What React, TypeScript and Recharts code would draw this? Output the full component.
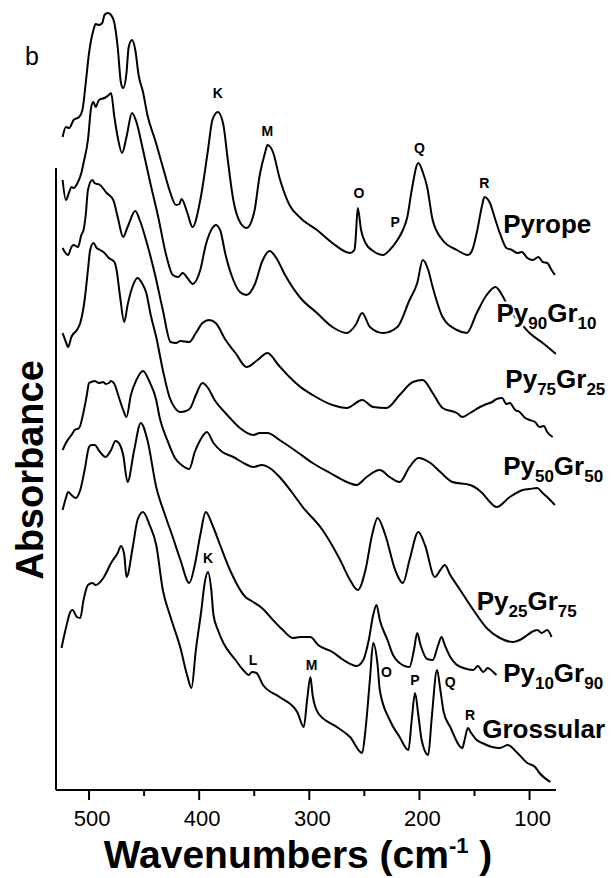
import { LineChart, Line, XAxis, YAxis, ReferenceLine, ReferenceDot } from 'recharts';

// far-IR absorbance spectra, pyrope-grossular series (wavenumber cm-1, absorbance offset)
const pyrope = [
  [524, 6.53], [521, 6.63], [518, 6.62], [514, 6.7], [509, 6.73], [506, 6.8], [503, 7.07], [500, 7.37],
  [496, 7.6], [494, 7.66], [491, 7.65], [488, 7.67], [486, 7.75], [483, 7.77], [480, 7.75], [477, 7.67],
  [474, 7.43], [471, 7.07], [469, 7.02], [466, 7.17], [464, 7.43], [461, 7.5], [458, 7.4], [455, 7.15],
  [451, 6.98], [447, 6.75], [440, 6.5], [433, 6.23], [427, 6.0], [421, 5.85], [418, 5.86], [416, 5.91],
  [411, 5.78], [406, 5.63], [399, 5.9], [392, 6.4], [388, 6.7], [383, 6.78], [378, 6.65], [374, 6.3],
  [369, 5.9], [363, 5.68], [357, 5.62], [350, 5.78], [345, 6.15], [340, 6.38], [338, 6.45], [333, 6.38],
  [327, 6.12], [318, 5.85], [308, 5.72], [293, 5.6], [279, 5.47], [263, 5.37], [259, 5.4], [258, 5.5],
  [256, 5.82], [253, 5.6], [249, 5.47], [242, 5.39], [233, 5.35], [227, 5.4], [220, 5.5], [215, 5.6],
  [211, 5.73], [207, 6.0], [201, 6.27], [197, 6.18], [193, 6.03], [188, 5.7], [179, 5.5], [166, 5.4],
  [156, 5.35], [152, 5.4], [148, 5.57], [143, 5.85], [141, 5.93], [136, 5.87], [131, 5.7], [127, 5.57],
  [121, 5.42], [116, 5.4], [111, 5.37], [107, 5.38], [102, 5.32], [97, 5.3], [92, 5.33], [88, 5.28],
  [84, 5.27], [80, 5.2], [77, 5.15],
];

const py90gr10 = [
  [524, 6.1], [521, 5.9], [518, 5.98], [516, 6.03], [514, 6.02], [510, 6.08], [507, 6.17], [505, 6.27],
  [501, 6.5], [498, 6.83], [496, 6.88], [494, 6.83], [491, 6.9], [486, 6.92], [482, 6.95], [480, 6.97],
  [477, 6.73], [474, 6.53], [470, 6.37], [466, 6.53], [461, 6.77], [457, 6.68], [451, 6.4], [445, 6.1],
  [437, 5.72], [430, 5.35], [424, 5.15], [419, 5.13], [415, 5.17], [410, 5.11], [406, 5.06], [399, 5.2],
  [394, 5.45], [388, 5.62], [385, 5.65], [381, 5.6], [376, 5.35], [369, 5.1], [363, 4.98], [357, 4.95],
  [349, 5.07], [343, 5.28], [336, 5.39], [330, 5.32], [322, 5.15], [308, 4.92], [293, 4.77], [279, 4.63],
  [266, 4.57], [258, 4.65], [252, 4.77], [245, 4.63], [233, 4.57], [220, 4.63], [209, 4.9], [202, 5.07],
  [197, 5.3], [192, 5.2], [188, 5.03], [179, 4.73], [166, 4.6], [157, 4.57], [148, 4.77], [139, 4.95],
  [131, 5.03], [125, 4.95], [118, 4.8], [109, 4.68], [100, 4.57], [88, 4.47], [76, 4.36],
];

const py75gr25 = [
  [524, 5.42], [522, 5.38], [519, 5.35], [516, 5.43], [514, 5.45], [510, 5.43], [507, 5.55], [505, 5.6],
  [503, 5.75], [501, 6.0], [497, 6.1], [495, 6.07], [490, 6.05], [484, 5.97], [478, 5.9], [474, 5.73],
  [469, 5.53], [465, 5.63], [458, 5.79], [454, 5.7], [447, 5.45], [440, 5.15], [433, 4.8], [426, 4.48],
  [421, 4.47], [417, 4.49], [409, 4.48], [403, 4.57], [397, 4.67], [391, 4.7], [385, 4.67], [376, 4.5],
  [367, 4.37], [357, 4.23], [347, 4.3], [338, 4.37], [328, 4.25], [318, 4.13], [308, 4.03], [297, 3.95],
  [279, 3.85], [266, 3.82], [252, 3.9], [242, 3.83], [230, 3.82], [218, 3.95], [206, 4.08], [197, 4.1],
  [188, 3.97], [179, 3.82], [166, 3.77], [161, 3.73], [154, 3.77], [145, 3.83], [139, 3.86], [134, 3.88],
  [130, 3.91], [125, 3.92], [121, 3.86], [118, 3.87], [113, 3.8], [109, 3.78], [104, 3.72], [100, 3.7],
  [95, 3.68], [91, 3.63], [87, 3.64], [84, 3.58], [79, 3.53],
];

const py50gr50 = [
  [524, 4.57], [521, 4.48], [519, 4.43], [516, 4.53], [515, 4.55], [511, 4.6], [508, 4.67], [504, 4.9],
  [501, 5.2], [499, 5.4], [496, 5.47], [493, 5.42], [490, 5.4], [487, 5.38], [482, 5.32], [477, 5.28],
  [475, 5.2], [472, 4.95], [468, 4.68], [465, 4.85], [460, 5.05], [456, 5.12], [452, 5.07], [448, 4.97],
  [444, 4.75], [439, 4.53], [433, 4.2], [427, 3.93], [422, 3.82], [417, 3.78], [412, 3.79], [408, 3.82],
  [403, 3.95], [397, 4.07], [392, 4.02], [386, 3.9], [377, 3.78], [372, 3.72], [363, 3.62], [351, 3.55],
  [345, 3.57], [338, 3.57], [327, 3.5], [311, 3.38], [297, 3.27], [281, 3.17], [266, 3.08], [257, 3.05],
  [248, 3.13], [236, 3.2], [227, 3.13], [218, 3.08], [209, 3.23], [201, 3.32], [190, 3.27], [181, 3.18],
  [170, 3.08], [154, 3.05], [143, 2.97], [136, 2.88], [130, 2.83], [118, 2.93], [106, 3.0], [100, 3.01],
  [93, 3.02], [89, 2.98], [84, 2.93], [77, 2.85],
];

const py25gr75 = [
  [524, 3.4], [521, 3.47], [516, 3.55], [513, 3.6], [509, 3.62], [505, 3.78], [502, 3.95], [500, 4.07],
  [498, 4.08], [495, 4.09], [491, 4.07], [487, 4.08], [485, 4.06], [482, 4.07], [480, 4.09], [477, 4.06],
  [473, 3.93], [469, 3.8], [466, 3.73], [462, 3.95], [457, 4.1], [451, 4.19], [445, 4.08], [439, 3.9],
  [436, 3.73], [429, 3.5], [422, 3.32], [416, 3.25], [409, 3.21], [404, 3.38], [399, 3.5], [393, 3.58],
  [387, 3.47], [379, 3.38], [369, 3.33], [358, 3.26], [351, 3.23], [343, 3.25], [336, 3.22], [327, 3.13],
  [316, 2.98], [306, 2.83], [288, 2.6], [272, 2.3], [263, 2.1], [256, 2.0], [249, 2.2], [243, 2.55],
  [238, 2.72], [231, 2.55], [222, 2.2], [215, 2.07], [209, 2.3], [201, 2.58], [195, 2.45], [186, 2.13],
  [181, 2.2], [177, 2.25], [172, 2.15], [163, 2.0], [151, 1.8], [139, 1.62], [127, 1.52], [115, 1.48],
  [109, 1.5], [102, 1.55], [98, 1.58], [93, 1.6], [89, 1.57], [84, 1.6], [80, 1.53],
];

const py10gr90 = [
  [524, 2.8], [521, 2.92], [519, 2.98], [516, 2.95], [512, 2.92], [508, 3.0], [504, 3.2], [500, 3.43],
  [498, 3.45], [495, 3.45], [490, 3.38], [485, 3.33], [480, 3.4], [476, 3.49], [473, 3.47], [469, 3.35],
  [465, 3.08], [459, 3.4], [453, 3.67], [447, 3.5], [439, 3.03], [431, 2.75], [424, 2.53], [417, 2.3],
  [409, 2.07], [404, 2.25], [399, 2.55], [394, 2.78], [388, 2.65], [381, 2.45], [372, 2.2], [358, 1.93],
  [351, 1.88], [343, 1.82], [333, 1.7], [324, 1.6], [315, 1.52], [308, 1.53], [299, 1.53], [292, 1.45],
  [279, 1.38], [269, 1.3], [257, 1.24], [251, 1.3], [246, 1.5], [242, 1.75], [239, 1.85], [236, 1.7],
  [229, 1.5], [224, 1.35], [218, 1.27], [209, 1.23], [205, 1.4], [202, 1.57], [199, 1.45], [193, 1.31],
  [188, 1.3], [183, 1.45], [180, 1.53], [177, 1.45], [172, 1.33], [167, 1.26], [160, 1.22], [151, 1.2],
  [147, 1.24], [142, 1.18], [138, 1.22], [133, 1.18], [130, 1.15],
];

const grossular = [
  [525, 1.42], [521, 1.62], [517, 1.78], [515, 1.8], [511, 1.73], [508, 1.72], [505, 1.9], [501, 2.05],
  [497, 2.07], [494, 2.05], [487, 2.12], [480, 2.27], [474, 2.37], [471, 2.44], [468, 2.35], [466, 2.13],
  [460, 2.45], [456, 2.7], [451, 2.78], [445, 2.65], [439, 2.45], [433, 2.0], [426, 1.73], [417, 1.42],
  [411, 1.15], [407, 1.02], [403, 1.4], [398, 1.8], [395, 2.07], [392, 2.18], [389, 2.0], [387, 1.75],
  [383, 1.6], [378, 1.47], [367, 1.3], [360, 1.2], [355, 1.15], [352, 1.18], [348, 1.17], [342, 1.05],
  [327, 0.93], [311, 0.78], [305, 0.63], [302, 0.9], [299, 1.13], [297, 0.95], [292, 0.77], [275, 0.63],
  [263, 0.53], [252, 0.37], [249, 0.6], [245, 1.1], [242, 1.47], [238, 1.25], [236, 1.0], [227, 0.7],
  [218, 0.53], [210, 0.4], [207, 0.7], [204, 0.97], [201, 0.75], [198, 0.5], [192, 0.35], [189, 0.7],
  [184, 1.2], [181, 1.0], [178, 0.78], [172, 0.63], [161, 0.42], [159, 0.5], [156, 0.62], [153, 0.57],
  [148, 0.5], [143, 0.47], [134, 0.43], [127, 0.42], [120, 0.45], [111, 0.37], [102, 0.27], [95, 0.23],
  [91, 0.17], [81, 0.08],
];

const spectra = [pyrope, py90gr10, py75gr25, py50gr50, py25gr75, py10gr90, grossular];

// band letters
const pyropeBands = [['K', 383, 6.97], ['M', 338, 6.59], ['O', 255, 5.97], ['P', 222, 5.68], ['Q', 200, 6.42], ['R', 141, 6.07]];
const grossularBands = [['K', 392, 2.32], ['L', 351, 1.3], ['M', 298, 1.25], ['O', 230, 1.18], ['P', 204, 1.1], ['Q', 172, 1.08], ['R', 154, 0.75]];

// sample names: [text, subscript?]
const sampleLabels = [
  { parts: [['Pyrope', false]], wn: 124, a: 5.57 },
  { parts: [['Py', false], ['90', true], ['Gr', false], ['10', true]], wn: 130, a: 4.68 },
  { parts: [['Py', false], ['75', true], ['Gr', false], ['25', true]], wn: 122, a: 4.02 },
  { parts: [['Py', false], ['50', true], ['Gr', false], ['50', true]], wn: 124, a: 3.15 },
  { parts: [['Py', false], ['25', true], ['Gr', false], ['75', true]], wn: 148, a: 1.8 },
  { parts: [['Py', false], ['10', true], ['Gr', false], ['90', true]], wn: 124, a: 1.08 },
  { parts: [['Grossular', false]], wn: 143, a: 0.52 },
];

const xTicks = [500, 450, 400, 350, 300, 250, 200, 150, 100];

const FONT = "'Liberation Sans', Arial, Helvetica, sans-serif";

const AxisTick = (props: any) => {
  const { x, y, payload } = props;
  const major = payload.value % 100 === 0;
  return (
    <g>
      <line x1={x} x2={x} y1={y - 20} y2={y - 20 + (major ? 10 : 6)} stroke="#000" strokeWidth={2} />
      {major && (
        <text x={x + 3} y={y} dy="0.71em" textAnchor="middle" fontSize={22} fill="#000" fontFamily={FONT}>
          {payload.value}
        </text>
      )}
    </g>
  );
};

const bandShape = (letter: string) => (p: any) => (
  <text x={p.cx} y={p.cy} textAnchor="middle" dominantBaseline="central" fontSize={14} fontWeight="bold" fill="#000" fontFamily={FONT}>
    {letter}
  </text>
);

const nameShape = (parts: any[]) => (p: any) => {
  let shift = 0;
  return (
    <text x={p.cx} y={p.cy} fontSize={26} fontWeight="bold" fill="#000" fontFamily={FONT}
      stroke="#fff" strokeWidth={5} paintOrder="stroke" strokeLinejoin="round">
      {parts.map(([t, sub]: [string, boolean], i: number) => {
        const dy = (sub ? 7 : 0) - shift;
        shift = sub ? 7 : 0;
        return (
          <tspan key={i} dy={dy} fontSize={sub ? 17 : 26}>{t}</tspan>
        );
      })}
    </text>
  );
};

export default function App() {
  return (
    <div style={{ position: 'absolute', left: 0, top: 0, width: 615, height: 878, background: '#fff' }}>
      <LineChart width={615} height={878} margin={{ top: 10, right: 59, bottom: 0, left: 56 }}>
        <XAxis
          type="number"
          dataKey="wn"
          domain={[76, 530]}
          reversed
          allowDataOverflow
          ticks={xTicks}
          interval={0}
          height={88}
          tickSize={10}
          tickMargin={10}
          tickLine={false}
          tick={<AxisTick />}
          axisLine={{ stroke: '#000', strokeWidth: 2 }}
        />
        <YAxis type="number" domain={[0, 7.8]} allowDataOverflow hide width={0} />
        <ReferenceLine
          segment={[{ x: 530, y: 6.22 }, { x: 530, y: 0 }]}
          stroke="#000"
          strokeWidth={2}
          ifOverflow="visible"
        />
        {spectra.map((pts, i) => (
          <Line
            key={i}
            data={pts.map(([wn, a]) => ({ wn, a }))}
            dataKey="a"
            type="monotone"
            stroke="#000"
            strokeWidth={2}
            strokeLinejoin="round"
            dot={false}
            isAnimationActive={false}
          />
        ))}
        {sampleLabels.map((l, i) => (
          <ReferenceDot key={'n' + i} x={l.wn} y={l.a} r={1} ifOverflow="visible" shape={nameShape(l.parts)} />
        ))}
        {pyropeBands.map(([t, wn, a], i) => (
          <ReferenceDot key={'pb' + i} x={wn as number} y={a as number} r={1} ifOverflow="visible" shape={bandShape(t as string)} />
        ))}
        {grossularBands.map(([t, wn, a], i) => (
          <ReferenceDot key={'gb' + i} x={wn as number} y={a as number} r={1} ifOverflow="visible" shape={bandShape(t as string)} />
        ))}
      </LineChart>
      <svg width={615} height={878} style={{ position: 'absolute', left: 0, top: 0, pointerEvents: 'none' }}>
        <text x={25} y={65} fontSize={25} fill="#000" fontFamily={FONT}>b</text>
        <text x={43} y={470} transform="rotate(-90, 43, 470)" textAnchor="middle" fontSize={38} fontWeight="bold" fill="#000" fontFamily={FONT}>
          Absorbance
        </text>
        <text x={298} y={868} textAnchor="middle" fontSize={39} fontWeight="bold" fill="#000" fontFamily={FONT}>
          Wavenumbers (cm<tspan fontSize={22} dy={-15}>-1</tspan><tspan dy={15}> )</tspan>
        </text>
      </svg>
    </div>
  );
}
